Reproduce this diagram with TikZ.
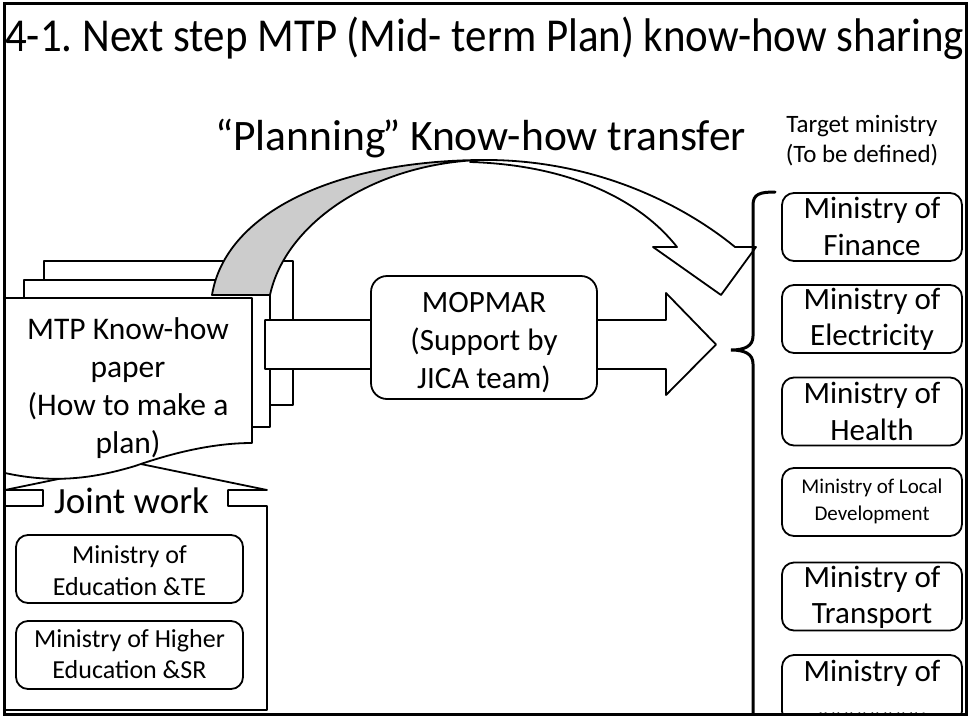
\documentclass[tikz,border=0pt]{standalone}
\usepackage{fontspec}
\setmainfont{Carlito}
\newcommand\setfs[2]{\fontsize{#1}{#2}\selectfont}
\frenchspacing
\tikzset{
  shp/.style={draw=black, line width=1.8pt, fill=white, line join=round},
  mbox/.style={shp, rounded corners=12pt, minimum width=180pt, minimum height=68pt, inner sep=0pt},
  lbox/.style={shp, rounded corners=12pt, minimum width=227pt, minimum height=68pt, inner sep=0pt},
  txt/.style={inner sep=0pt, align=center, anchor=base},
}
\begin{document}
\begin{tikzpicture}[x=1pt,y=-1pt]
\useasboundingbox (0,0) rectangle (971,723);
\fill[white] (0,0) rectangle (971,723);

% title
\node[inner sep=0pt, anchor=base west] (title) at (5,51)
  {\scalebox{1}[1.1]{\resizebox{959pt}{!}{4-1. Next step MTP (Mid- term Plan) know-how sharing}}};

% curved arrow label
\node[inner sep=0pt, anchor=base west, font=\setfs{43.5}{50}] (plan) at (215,150)
  {“Planning\kern-3.5pt” Know-how transfer};

% target ministry
\node[txt, font=\setfs{25}{30}] (target) at (862,162) {Target ministry\\(To be defined)};

% paper stack
\draw[shp] (44,261) rectangle (293,405);
\draw[shp] (24,280) rectangle (270,427);

% straight block arrow
\draw[shp] (265,320) -- (666,320) -- (666,293) -- (716,344.5) -- (666,395) -- (666,369) -- (265,369) -- cycle;

% Joint work shape
\draw[shp] (5,490) -- (136,463) -- (267,490) -- (228,490) -- (228,506) -- (267,506)
  -- (267,710) -- (5,710) -- (5,506) -- (43,506) -- (43,490) -- cycle;

% front paper
\draw[shp] (5,298) -- (252,298) -- (252,443)
  .. controls (215,443) and (175,452) .. (135,466)
  .. controls (95,478) and (55,484) .. (5,473) -- cycle;
\node[txt, font=\setfs{31.5}{38}] (paper) at (128,453) {MTP Know-how\\paper\\(How to make a\\plan)};

% curved arrow: gray back part
\draw[shp, fill=black!20] (212,295) .. controls (225,215) and (330,162) .. (478,160)
  .. controls (370,165) and (285,225) .. (270,295) -- cycle;
% white front part with head
\draw[shp] (478,160) .. controls (600,158) and (690,210) .. (735,247)
  -- (756,247) -- (721,295) -- (653,247) -- (677,247)
  .. controls (640,200) and (570,165) .. (470,162) -- cycle;

% MOPMAR
\node[shp, rounded corners=16pt, minimum width=226pt, minimum height=123pt, inner sep=0pt] (mop) at (484,337.5) {};
\node[txt, font=\setfs{31}{38}] (moptxt) at (484,388) {MOPMAR\\(Support by\\JICA team)};

% joint work label and boxes
\node[txt, font=\setfs{37}{44}] (joint) at (131.5,513) {Joint work};
\node[lbox] (edu) at (129.5,569) {};
\node[txt, font=\setfs{26}{32}] (edutxt) at (129.5,595) {Ministry of\\Education \&TE};
\node[lbox] (hedu) at (129.5,655) {};
\node[txt, font=\setfs{26}{31}] (hedutxt) at (129.5,678) {Ministry of Higher\\Education \&SR};

% brace
\draw[line width=3pt, line cap=round] (775,192) .. controls (760,192) and (753,194) .. (753,205)
  -- (753,336) .. controls (753,346) and (745,350) .. (731,350)
  .. controls (745,350) and (753,354) .. (753,364) -- (753,714);

% target ministries
\begin{scope}
\clip (0,0) rectangle (971,714);
\node[mbox] (fin) at (872,227) {};
\node[txt, font=\setfs{31}{37}] (fintxt) at (872,255) {Ministry of\\Finance};
\node[mbox] (ele) at (872,319) {};
\node[txt, font=\setfs{31}{36}] (eletxt) at (872,345) {Ministry of\\Electricity};
\node[mbox] (hea) at (872,411.5) {};
\node[txt, font=\setfs{31}{37}] (heatxt) at (872,440) {Ministry of\\Health};
\node[mbox] (loc) at (872,502) {};
\node[txt, font=\setfs{21}{27}] (loctxt) at (872,520) {Ministry of Local\\Development};
\node[mbox] (tra) at (872,596.5) {};
\node[txt, font=\setfs{31}{36}] (tratxt) at (872,623) {Ministry of\\Transport};
\node[mbox] (oth) at (872,689) {};
\node[txt, font=\setfs{31}{35}] (othtxt) at (872,716) {Ministry of\\,,,,,,,,,,,,,,,,,};
\end{scope}

% outer frame
\draw[line width=3pt] (4,3) rectangle (966,714);
\end{tikzpicture}
\end{document}
